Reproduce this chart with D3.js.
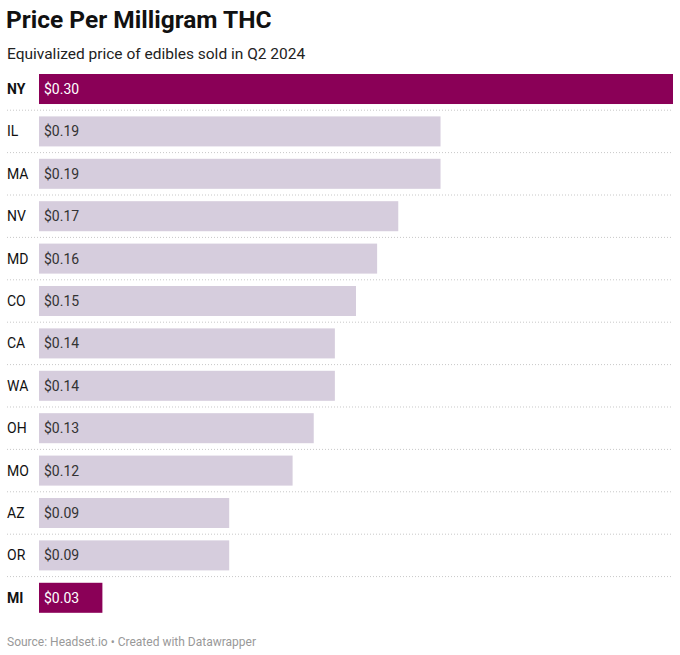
<!DOCTYPE html>
<html>
<head>
<meta charset="utf-8">
<script src="https://cdn.jsdelivr.net/npm/d3@7"></script>
<style>
  body { margin: 0; background: #fff; font-family: Roboto, "Noto Sans", sans-serif; }
</style>
</head>
<body>
<div id="chart"></div>
<script>
// Data
const states = ['NY', 'IL', 'MA', 'NV', 'MD', 'CO', 'CA', 'WA', 'OH', 'MO', 'AZ', 'OR', 'MI'];
const prices = [0.30, 0.19, 0.19, 0.17, 0.16, 0.15, 0.14, 0.14, 0.13, 0.12, 0.09, 0.09, 0.03];
const highlighted = ['NY', 'MI'];

const width = 680, height = 655;
const svg = d3.select('#chart').append('svg')
    .attr('width', width)
    .attr('height', height);

// Header
svg.append('text')
    .attr('x', 6).attr('y', 28)
    .style('font-size', '24.5px').style('font-weight', 700).style('fill', '#111')
    .text('Price Per Milligram THC');
svg.append('text')
    .attr('x', 7).attr('y', 59)
    .style('font-size', '15.5px').style('fill', '#222')
    .text('Equivalized price of edibles sold in Q2 2024');

// Scales
const x = d3.scaleLinear().domain([0, 0.30]).range([39, 673]);
const y = d3.scaleBand().domain(states).range([74, 612.8]).paddingInner(0.292).paddingOuter(0);

const rows = states.map((s, i) => ({ state: s, value: prices[i], hi: highlighted.includes(s) }));

// Separators
svg.selectAll('.sep')
    .data(states.slice(0, -1))
    .enter().append('line')
    .attr('x1', 7).attr('x2', 673)
    .attr('y1', d => y(d) + y.bandwidth() + y.step() * 0.146)
    .attr('y2', d => y(d) + y.bandwidth() + y.step() * 0.146)
    .attr('stroke', '#c8c8c8')
    .attr('stroke-width', 1)
    .attr('stroke-dasharray', '1,2');

// Bars
svg.selectAll('.bar')
    .data(rows)
    .enter().append('rect')
    .attr('x', x(0))
    .attr('y', d => y(d.state))
    .attr('width', d => x(d.value) - x(0))
    .attr('height', y.bandwidth())
    .attr('fill', d => d.hi ? '#8a0057' : '#d6cddd');

// Value labels
svg.selectAll('.val')
    .data(rows)
    .enter().append('text')
    .attr('x', x(0) + 5)
    .attr('y', d => y(d.state) + y.bandwidth() / 2)
    .attr('dominant-baseline', 'central')
    .style('font-size', '14px')
    .style('fill', d => d.hi ? '#ffffff' : '#333')
    .text(d => '$' + d.value.toFixed(2));

// Category labels
svg.selectAll('.cat')
    .data(rows)
    .enter().append('text')
    .attr('x', 7)
    .attr('y', d => y(d.state) + y.bandwidth() / 2)
    .attr('dominant-baseline', 'central')
    .style('font-size', '14px')
    .style('font-weight', d => d.hi ? 700 : 400)
    .style('fill', '#111')
    .text(d => d.state);

// Footer
svg.append('text')
    .attr('x', 7).attr('y', 646)
    .style('font-size', '12px').style('fill', '#999')
    .text('Source: Headset.io • Created with Datawrapper');
</script>
</body>
</html>
